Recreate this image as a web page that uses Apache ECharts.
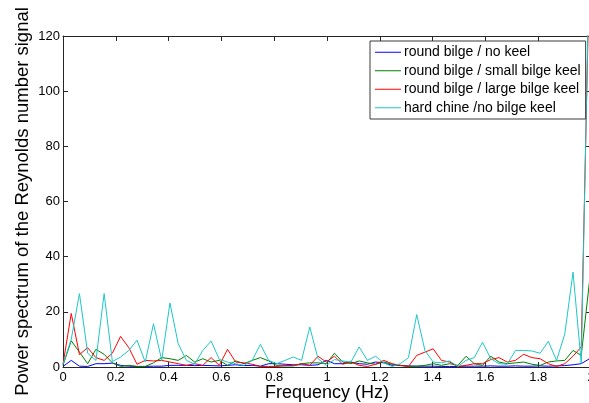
<!DOCTYPE html>
<html>
<head>
<meta charset="utf-8">
<script src="https://cdn.jsdelivr.net/npm/echarts@6/dist/echarts.min.js"></script>
<style>
  html, body { margin: 0; padding: 0; background: #ffffff; overflow: hidden; }
  #chart { width: 589px; height: 403px; }
</style>
</head>
<body>
<div id="chart"></div>
<script>
// Frequency bins of the spectrum (Hz)
const frequency = [
  0, 0.0312, 0.0623, 0.0935, 0.1246, 0.1558, 0.1870, 0.2181, 0.2493, 0.2804,
  0.3116, 0.3428, 0.3739, 0.4051, 0.4362, 0.4674, 0.4986, 0.5297, 0.5609, 0.5920,
  0.6232, 0.6544, 0.6855, 0.7167, 0.7478, 0.7790, 0.8102, 0.8413, 0.8725, 0.9036,
  0.9348, 0.9660, 0.9971, 1.0283, 1.0594, 1.0906, 1.1218, 1.1529, 1.1841, 1.2152,
  1.2464, 1.2776, 1.3087, 1.3399, 1.3710, 1.4022, 1.4334, 1.4645, 1.4957, 1.5268,
  1.5580, 1.5892, 1.6203, 1.6515, 1.6826, 1.7138, 1.7450, 1.7761, 1.8073, 1.8384,
  1.8696, 1.9008, 1.9319, 1.9631, 1.9942
];

// Power spectrum, round bilge / no keel
const roundNoKeel = [
  0.2, 2.4, 0.3, 0.2, 1.2, 1.2, 1.4, 0.6, 0.3, 0.2,
  0.2, 0.3, 0.3, 0.6, 0.6, 0.6, 0.5, 0.6, 0.5, 0.4,
  0.6, 0.8, 0.5, 0.6, 0.3, 1.2, 1.2, 1.0, 0.8, 0.8,
  0.6, 0.8, 2.4, 1.2, 1.2, 1.8, 1.2, 1.0, 1.8, 1.5,
  0.6, 0.5, 0.4, 0.3, 0.3, 0.3, 0.2, 0.2, 0.2, 0.3,
  0.3, 0.3, 0.4, 0.3, 0.3, 0.4, 0.3, 0.3, 0.4, 0.3,
  0.4, 0.5, 0.8, 1.2, 3.0
];

// Power spectrum, round bilge / small bilge keel
const roundSmallKeel = [
  0.6, 9.5, 5.4, 1.2, 6.4, 4.6, 1.5, 0.2, 0.6, 0.2,
  0.2, 1.5, 3.4, 3.0, 2.4, 4.2, 1.8, 3.0, 1.8, 2.4,
  0.6, 2.2, 1.2, 2.4, 3.4, 2.2, 0.5, 0.4, 0.4, 1.2,
  1.5, 1.5, 1.2, 5.0, 1.8, 1.2, 2.2, 1.5, 1.0, 1.8,
  1.0, 0.6, 0.2, 0.3, 0.6, 1.2, 0.6, 1.2, 0.6, 3.9,
  1.2, 0.6, 3.9, 1.8, 1.2, 1.5, 1.8, 1.0, 0.6, 1.8,
  2.2, 2.4, 6.0, 4.2, 31
];

// Power spectrum, round bilge / large bilge keel
const roundLargeKeel = [
  1.0, 19.4, 4.5, 7.0, 3.4, 2.4, 5.0, 11.1, 7.0, 1.0,
  2.4, 2.2, 2.4, 1.8, 1.2, 0.6, 1.2, 0.6, 3.4, 0.6,
  6.4, 1.8, 1.5, 1.0, 0.2, 0.2, 0.2, 0.5, 0.6, 1.2,
  0.6, 3.9, 1.8, 3.9, 1.0, 1.8, 0.6, 0.2, 1.0, 2.4,
  1.2, 0.6, 0.2, 4.2, 5.4, 6.6, 2.4, 1.8, 0.2, 0.6,
  1.2, 1.2, 2.7, 3.4, 1.8, 2.4, 4.6, 3.4, 3.0, 1.2,
  0.2, 1.2, 3.9, 7.3, 145
];

// Power spectrum, hard chine / no bilge keel
const hardChineNoKeel = [
  1.0, 10.0, 26.6, 5.0, 2.4, 26.6, 2.0, 3.6, 6.0, 9.7,
  1.8, 15.7, 2.4, 23.2, 8.5, 2.4, 1.0, 6.0, 9.4, 2.8,
  1.8, 1.2, 0.6, 2.4, 8.2, 2.4, 1.2, 2.4, 3.6, 2.4,
  14.5, 3.0, 0.6, 2.7, 2.2, 1.8, 7.3, 2.4, 3.9, 1.5,
  0.2, 1.2, 3.4, 19.0, 6.0, 1.8, 1.5, 2.2, 0.2, 2.4,
  3.4, 9.0, 3.0, 1.2, 1.0, 6.0, 6.0, 5.8, 5.0, 9.3,
  2.4, 12.0, 34.4, 1.3, 150
];

const seriesNames = [
  'round bilge / no keel',
  'round bilge / small bilge keel',
  'round bilge / large bilge keel',
  'hard chine /no bilge keel'
];
const seriesColors = ['#0000ff', '#008000', '#ff0000', '#1fc6c6'];
const seriesValues = [roundNoKeel, roundSmallKeel, roundLargeKeel, hardChineNoKeel];

const xTickLabels = ['0', '0.2', '0.4', '0.6', '0.8', '1', '1.2', '1.4', '1.6', '1.8', '2'];
const yTickLabels = ['0', '20', '40', '60', '80', '100', '120'];

const FONT = 'Arial, "Liberation Sans", sans-serif';
const AXIS_COLOR = '#262626';

const chart = echarts.init(document.getElementById('chart'), null, { renderer: 'canvas' });

const makeSeries = (name, values, color) => ({
  name: name,
  type: 'line',
  data: frequency.map((f, i) => [f, values[i]]),
  symbol: 'none',
  showSymbol: false,
  clip: true,
  lineStyle: { color: color, width: 1 },
  itemStyle: { color: color },
  emphasis: { disabled: true }
});

const tickAxisCommon = {
  axisLine: { show: true, onZero: false, lineStyle: { color: AXIS_COLOR, width: 1 } },
  axisTick: { show: true, inside: true, length: 5, lineStyle: { color: AXIS_COLOR, width: 1 } },
  splitLine: { show: false }
};

chart.setOption({
  animation: false,
  backgroundColor: '#ffffff',
  grid: {
    left: 63, top: 36, width: 528, height: 331,
    containLabel: false,
    outerBoundsMode: 'none'
  },
  legend: {
    orient: 'vertical',
    left: 370,
    top: 41,
    data: seriesNames.map((n) => ({ name: n, icon: 'rect' })),
    itemWidth: 26,
    itemHeight: 1,
    itemGap: 4,
    padding: [4, 5, 4, 5],
    backgroundColor: '#ffffff',
    borderColor: '#3a3a3a',
    borderWidth: 1,
    borderRadius: 0,
    selectedMode: false,
    textStyle: { fontFamily: FONT, fontSize: 14, lineHeight: 14.5, color: '#000000', padding: [0, 0, 0, -2] }
  },
  xAxis: [
    Object.assign({
      type: 'value',
      min: 0,
      max: 2,
      interval: 0.2,
      position: 'bottom',
      name: 'Frequency (Hz)',
      nameLocation: 'middle',
      nameGap: 17,
      nameMoveOverlap: false,
      nameTextStyle: { fontFamily: FONT, fontSize: 18, color: '#000000' },
      axisLabel: {
        margin: 4,
        fontFamily: FONT,
        fontSize: 13,
        color: '#000000',
        formatter: (v) => xTickLabels[Math.round(v / 0.2)]
      }
    }, tickAxisCommon),
    Object.assign({
      type: 'value',
      min: 0,
      max: 2,
      interval: 0.2,
      position: 'top',
      axisLabel: { show: false }
    }, tickAxisCommon)
  ],
  yAxis: [
    Object.assign({
      type: 'value',
      min: 0,
      max: 120,
      interval: 20,
      position: 'left',
      name: 'Power spectrum of the Reynolds number signal',
      nameLocation: 'middle',
      nameGap: 31,
      nameMoveOverlap: false,
      nameTextStyle: { fontFamily: FONT, fontSize: 18.5, color: '#000000' },
      axisLabel: {
        margin: 3,
        fontFamily: FONT,
        fontSize: 13,
        color: '#000000',
        formatter: (v) => yTickLabels[Math.round(v / 20)]
      }
    }, tickAxisCommon),
    Object.assign({
      type: 'value',
      min: 0,
      max: 120,
      interval: 20,
      position: 'right',
      axisLabel: { show: false }
    }, tickAxisCommon)
  ],
  series: seriesNames.map((n, i) => makeSeries(n, seriesValues[i], seriesColors[i]))
});
</script>
</body>
</html>
